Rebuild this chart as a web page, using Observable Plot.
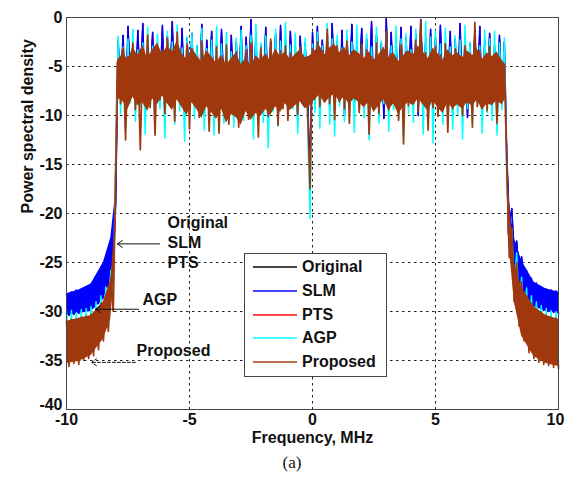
<!DOCTYPE html>
<html>
<head>
<meta charset="utf-8">
<script src="https://cdn.jsdelivr.net/npm/d3@7"></script>
<script src="https://cdn.jsdelivr.net/npm/@observablehq/plot@0.6"></script>
<style>
  body { margin: 0; background: #fff; font-family: "Liberation Sans", Arial, sans-serif; }
  #wrap { position: relative; width: 565px; height: 481px; overflow: hidden; }
  #legend { position: absolute; left: 244px; top: 253px; width: 143px; height: 124px;
            border: 1px solid #444; background: #fff; box-sizing: border-box; }
  .row { position: absolute; left: 0; height: 20px; width: 140px; }
  .sw { position: absolute; left: 8px; top: 9px; width: 44px; height: 2px; }
  .lt { position: absolute; left: 57px; top: 0; line-height: 20px; font-size: 16px; font-weight: bold; color: #111; }
  #caption { position: absolute; top: 450px; left: 292px; transform: translateX(-50%);
             height: 26px; line-height: 26px; font-family: "Liberation Serif", "DejaVu Serif", serif; font-size: 17px; color: #111; }
</style>
</head>
<body>
<div id="wrap">
  <div id="chart"></div>
  <div id="legend"></div>
  <div id="caption">(a)</div>
</div>
<script>
// ---- Series names & colours ----
const seriesNames = ["Original", "SLM", "PTS", "AGP", "Proposed"];
const seriesColors = ["#000000", "#0000ff", "#ff0000", "#00ffff", "#a0380e"];

// ---- Sample frequencies, MHz (-10 .. 10 in 0.1 MHz steps) ----
const freq = d3.range(-100, 101).map(k => k / 10);

// ---- PSD samples (dB) ----
const slmPSD = [
  -28.3, -30.4, -28.0, -30.3, -27.8, -30.2, -27.9, -30.0, -27.5, -29.9, -27.2, -29.6, -26.6, -29.2, -25.8, -28.6, -24.8, -27.6, -23.0, -25.5, -19.0,
  -2.4, -7.0, -1.8, -9.6, -0.9, -6.5, -2.8, -8.2, -1.3, -7.4,
  -0.6, -9.0, -2.2, -6.8, -1.5, -8.7, -3.0, -7.1, -0.8, -10.2,
  -1.9, -6.9, -0.4, -8.3, -2.6, -7.6, -1.1, -9.4, -2.1, -6.6,
  -1.6, -8.8, -2.9, -7.3, -0.7, -9.9, -2.3, -6.7, -1.4, -8.1,
  -2.7, -9.5, -1.2, -7.0, -3.1, -10.4, -1.8, -8.5, -2.5, -7.8,
  -0.9, -9.1, -2.0, -6.9, -0.2, -8.6, -1.6, -10.0, -2.8, -7.2,
  -1.0, -8.4, -2.4, -6.6, -1.7, -9.7, -0.8, -7.5, -2.2, -8.9,
  -1.4, -7.1, -2.9, -10.6, -1.9, -6.8, -2.6, -8.0, -16.0, -1.5,
  -7.4, -0.9, -8.8, -2.3, -6.9, -1.6, -9.2, -0.6, -7.7, -2.5,
  -8.5, -1.3, -10.1, -2.0, -7.0, -0.7, -8.7, -2.7, -6.6, -1.1,
  -9.3, -2.2, -7.5, -0.4, -8.9, -1.8, -6.9, -2.6, -10.3, -0.1,
  -7.8, -1.5, -8.4, -2.8, -6.7, -1.0, -9.6, -2.1, -7.3, -0.9,
  -8.9, -1.7, -10.0, -0.2, -7.0, -2.4, -8.6, -1.2, -9.4, -2.0,
  -7.2, -0.8, -8.3, -2.6, -6.8, -1.4, -9.9, -2.2, -7.7, -0.6,
  -8.8, -1.9, -10.2, -2.7, -7.1, -1.3, -8.5, -0.9, -9.6, -2.3,
  -7.4, -1.6, -8.9, -2.9, -10.1, -1.8, -7.6, -2.5,
  -14.0, -21.0, -19.5, -24.0, -22.8, -26.2, -24.4, -27.6, -25.8, -28.6, -26.6, -29.2, -27.1, -29.6, -27.5, -29.9, -27.7, -30.0, -27.8, -30.1, -27.9, -30.2
];
// Original and PTS coincide with SLM (annotated "Original / SLM / PTS")
const originalPSD = slmPSD;
const ptsPSD = slmPSD;

const agpPSD = [
  -30.0, -35.2, -29.9, -34.9, -30.1, -35.0, -29.8, -34.6, -29.7, -34.4, -29.5, -34.0, -29.0, -33.4, -28.4, -32.6, -27.5, -31.6, -25.8, -29.5, -14.5,
  -1.9, -9.8, -3.0, -11.4, -2.2, -8.7, -1.2, -10.6, -3.3, -9.1,
  -2.6, -11.9, -1.0, -8.4, -2.9, -10.1, -1.7, -9.3, -3.4, -12.3,
  -1.4, -8.8, -2.5, -10.9, -0.8, -9.5, -3.1, -12.6, -2.0, -8.6,
  -1.6, -10.3, -2.8, -9.0, -1.1, -11.5, -3.2, -8.9, -2.3, -12.0,
  -0.9, -9.4, -2.7, -10.8, -1.5, -8.7, -3.5, -11.2, -2.1, -9.9,
  -1.3, -10.5, -2.9, -8.5, -1.8, -12.4, -0.7, -9.2, -2.6, -10.7,
  -1.9, -13.3, -3.0, -9.6, -1.2, -11.1, -2.4, -8.8, -0.5, -10.2,
  -2.8, -9.3, -1.6, -11.8, -3.2, -8.9, -2.1, -10.4, -20.5, -2.7,
  -9.7, -1.5, -11.3, -2.9, -8.6, -0.6, -10.9, -2.2, -12.1, -1.8,
  -9.0, -3.1, -10.6, -1.3, -8.7, -2.5, -11.7, -0.8, -9.5, -2.8,
  -10.2, -1.7, -12.5, -3.0, -9.1, -1.0, -10.8, -2.4, -8.8, -1.5,
  -11.6, -2.9, -9.4, -0.9, -10.4, -2.2, -12.2, -1.6, -9.8, -3.3,
  -10.7, -1.2, -8.9, -2.6, -11.9, -0.4, -9.6, -2.0, -12.8, -1.4,
  -9.2, -2.7, -10.9, -1.1, -8.6, -3.0, -11.4, -1.9, -9.9, -2.3,
  -12.4, -0.8, -9.3, -2.5, -10.6, -1.7, -8.9, -2.9, -11.8, -1.3,
  -9.7, -2.2, -10.5, -1.4, -12.0, -2.6, -9.4, -2.1,
  -16.5, -23.5, -21.5, -27.5, -24.0, -29.8, -26.5, -31.2, -27.6, -32.5, -28.4, -33.4, -29.0, -34.0, -29.4, -34.5, -29.7, -34.8, -29.9, -35.0, -30.0, -35.2
];

const proposedPSD = [
  -31.0, -35.6, -30.8, -35.3, -31.2, -35.4, -30.6, -35.0, -30.5, -34.8, -30.3, -34.5, -29.8, -33.9, -29.2, -33.0, -28.3, -32.0, -26.6, -30.0, -16.0,
  -4.2, -8.8, -3.1, -12.5, -4.0, -7.9, -2.6, -9.4, -3.8, -13.5,
  -3.5, -8.6, -1.8, -9.2, -4.1, -12.0, -2.9, -8.4, -3.3, -9.8,
  -2.1, -8.9, -3.6, -10.6, -1.5, -8.1, -3.9, -9.5, -2.7, -11.4,
  -3.2, -8.7, -4.5, -10.2, -2.4, -9.0, -3.7, -11.6, -4.2, -8.5,
  -3.0, -11.8, -4.6, -9.7, -2.8, -10.9, -4.4, -9.1, -3.5, -11.2,
  -4.8, -8.9, -3.3, -10.4, -2.6, -9.6, -4.3, -12.2, -3.1, -9.2,
  -3.9, -10.1, -2.2, -8.6, -4.0, -11.0, -3.4, -9.3, -2.9, -10.5,
  -3.6, -8.8, -4.2, -9.9, -3.0, -8.4, -4.1, -9.6, -17.5, -3.2,
  -8.3, -2.5, -9.1, -3.4, -7.9, -1.2, -8.8, -3.6, -10.4, -2.9,
  -8.6, -3.8, -9.3, -2.4, -10.8, -3.5, -8.2, -4.3, -9.7, -2.7,
  -8.9, -3.3, -11.9, -4.0, -8.5, -2.6, -9.8, -3.9, -8.1, -1.4,
  -9.4, -3.7, -8.7, -4.4, -10.5, -2.8, -12.9, -3.5, -9.0, -4.1,
  -8.4, -2.3, -9.6, -0.3, -8.8, -3.6, -11.5, -4.2, -9.2, -3.0,
  -10.1, -3.8, -8.6, -2.7, -11.7, -4.0, -9.3, -3.2, -8.5, -4.5,
  -10.0, -2.9, -8.7, -3.7, -11.2, -0.5, -9.1, -3.4, -8.3, -4.1,
  -9.5, -3.0, -8.4, -3.8, -10.8, -4.2, -8.6, -5.0,
  -15.5, -24.5, -21.5, -29.0, -25.0, -31.5, -27.0, -33.0, -28.4, -34.2, -29.2, -34.8, -29.8, -35.2, -30.2, -35.4, -30.4, -35.5, -30.6, -35.7, -30.7, -35.8
];

// ---- Dense-band envelopes (dB) ----
// out-of-band skirts
const leftOobFreq  = [-10, -9.5, -9, -8.5, -8.2, -8.05];
const rightOobFreq = [7.95, 8.2, 8.5, 9, 9.5, 10];
const slmLeftHi   = [-28.2, -27.8, -27.2, -25.0, -22.5, -19.0];
const slmLeftLo   = [-30.4, -30.2, -30.0, -28.8, -26.5, -24.0];
const slmRightHi  = [-18.0, -22.5, -24.8, -27.0, -27.7, -28.0];
const slmRightLo  = [-22.0, -25.5, -27.8, -29.5, -30.0, -30.2];
const propLeftHi  = [-31.0, -30.7, -30.4, -29.0, -26.8, -22.0];
const propLeftLo  = [-35.3, -35.1, -34.5, -32.8, -30.8, -26.0];
const propRightHi = [-17.0, -25.0, -27.5, -29.5, -30.4, -30.8];
const propRightLo = [-22.0, -29.0, -32.5, -34.6, -35.3, -35.6];
// in-band solid core of "Proposed": edges at -7.95 and 7.85, inner points every 0.2 MHz from -7.7 to 7.7
const coreFreq = [-7.95, ...d3.range(-77, 78, 2).map(k => k / 10), 7.85];
const coreHi = [
  -4.6,
  -3.6, -4.4, -3.0, -3.9, -2.8, -4.2, -3.3, -2.6, -3.8,
  -2.9, -3.5, -2.4, -3.7, -4.3, -3.1, -3.9, -4.6, -3.4, -4.0,
  -4.7, -3.8, -4.9, -4.2, -3.6, -4.8, -4.1, -5.0, -3.9, -4.4,
  -3.7, -4.5, -3.2, -4.0, -3.5, -4.3, -3.8, -3.3, -4.1, -3.9,
  -3.4, -2.9, -3.8, -3.1, -2.7, -3.6, -3.0, -3.9, -3.3, -3.7,
  -4.2, -3.5, -4.4, -3.8, -3.0, -4.1, -3.6, -4.5, -3.9, -3.4,
  -3.8, -2.9, -3.5, -4.2, -3.1, -3.7, -4.4, -3.3, -3.9, -3.6,
  -4.1, -3.4, -3.9, -3.2, -4.3, -3.6, -4.0, -3.5, -4.4,
  -4.8
];
const coreLo = [
  -8.2,
  -8.6, -9.4, -8.1, -9.0, -8.7, -9.6, -8.3, -8.9, -8.0,
  -8.8, -9.5, -8.4, -9.2, -10.0, -8.7, -9.4, -10.3, -9.1, -9.7,
  -10.4, -9.3, -10.8, -9.9, -10.2, -11.0, -9.6, -10.5, -9.8, -10.1,
  -9.4, -10.0, -9.1, -9.7, -8.8, -9.5, -9.0, -8.6, -9.3, -9.0,
  -8.4, -7.9, -8.8, -8.2, -7.8, -8.6, -8.1, -8.9, -8.3, -8.7,
  -9.2, -8.6, -9.7, -9.0, -8.4, -9.5, -8.8, -9.9, -9.1, -8.7,
  -9.0, -8.3, -8.9, -9.6, -8.5, -9.2, -9.8, -8.7, -9.3, -8.9,
  -9.4, -8.6, -9.1, -8.4, -9.5, -8.8, -9.0, -8.5, -8.9,
  -8.3
];

// ---- Axis ticks ----
const xTicks = [-10, -5, 0, 5, 10];
const yTicks = [-40, -35, -30, -25, -20, -15, -10, -5, 0];
const xGrid = [-5, 0, 5];
const yGrid = [-35, -30, -25, -20, -15, -10, -5];

// ---- Annotations (data units) ----
const noteText = ["Original", "SLM", "PTS", "AGP", "Proposed"];
const noteX = [-5.89, -5.89, -5.89, -6.91, -7.15];
const noteY = [-20.95, -23.0, -25.05, -28.85, -34.05];
const arrowFromX = [-6.22, -7.07, -7.2];
const arrowToX = [-7.93, -8.82, -8.98];
const arrowY = [-23.1, -29.77, -35.19];
const arrowDashed = [false, false, true];

// ---- build tables ----
[originalPSD, ptsPSD, slmPSD, agpPSD, proposedPSD].forEach(s => { if (s.length !== freq.length) throw new Error("series length " + s.length); });
if (coreHi.length !== coreFreq.length || coreLo.length !== coreFreq.length) throw new Error("core length " + coreFreq.length + " " + coreHi.length + " " + coreLo.length);
const rows = freq.map((f, i) => ({f, orig: originalPSD[i], pts: ptsPSD[i], slm: slmPSD[i], agp: agpPSD[i], prop: proposedPSD[i]}));
const slmLeft = leftOobFreq.map((f, i) => ({f, lo: slmLeftLo[i], hi: slmLeftHi[i]}));
const slmRight = rightOobFreq.map((f, i) => ({f, lo: slmRightLo[i], hi: slmRightHi[i]}));
const propEnv = [
  ...leftOobFreq.map((f, i) => ({f, lo: propLeftLo[i], hi: propLeftHi[i]})),
  ...coreFreq.map((f, i) => ({f, lo: coreLo[i], hi: coreHi[i]})),
  ...rightOobFreq.map((f, i) => ({f, lo: propRightLo[i], hi: propRightHi[i]}))
];
const notes = noteText.map((t, i) => ({t, x: noteX[i], y: noteY[i]}));
const arrows = arrowFromX.map((x1, i) => ({x1, x2: arrowToX[i], y: arrowY[i], dashed: arrowDashed[i]}));

const [cOrig, cSLM, cPTS, cAGP, cProp] = seriesColors;
const fmt = d => String(d);
const axisStyle = {tickSize: 0, tickPadding: 4, tickFormat: fmt, label: null};

const chart = Plot.plot({
  width: 565,
  height: 450,
  marginLeft: 66,
  marginRight: 7,
  marginTop: 17,
  marginBottom: 41,
  style: {fontFamily: "'Liberation Sans', Arial, sans-serif", fontSize: "16px", fontWeight: "bold", color: "#111", background: "#fff"},
  x: {domain: [-10, 10]},
  y: {domain: [-40, 0]},
  marks: [
    Plot.ruleX(xGrid, {stroke: "#222", strokeDasharray: "2.5,3.5", strokeWidth: 1}),
    Plot.ruleY(yGrid, {stroke: "#222", strokeDasharray: "2.5,3.5", strokeWidth: 1}),
    Plot.line(rows, {x: "f", y: "orig", stroke: cOrig, strokeWidth: 1}),
    Plot.line(rows, {x: "f", y: "pts", stroke: cPTS, strokeWidth: 1}),
    Plot.areaY(slmLeft, {x: "f", y1: "lo", y2: "hi", fill: cSLM}),
    Plot.areaY(slmRight, {x: "f", y1: "lo", y2: "hi", fill: cSLM}),
    Plot.line(rows, {x: "f", y: "slm", stroke: cSLM, strokeWidth: 1.5}),
    Plot.line(rows, {x: "f", y: "agp", stroke: cAGP, strokeWidth: 1.5}),
    Plot.areaY(propEnv, {x: "f", y1: "lo", y2: "hi", fill: cProp}),
    Plot.line(rows, {x: "f", y: "prop", stroke: cProp, strokeWidth: 1.7}),
    Plot.frame({stroke: "#444", strokeWidth: 1}),
    Plot.axisY(yTicks.filter(t => t !== -40), axisStyle),
    Plot.axisY([-40], {...axisStyle, dy: -5}),
    Plot.axisX(xTicks.filter(t => t !== 10), axisStyle),
    Plot.axisX([10], {...axisStyle, dx: -3}),
    Plot.text(notes, {x: "x", y: "y", text: "t", textAnchor: "start", fontSize: 16, fontWeight: "bold", fill: "#111"}),
    Plot.arrow(arrows.filter(a => !a.dashed), {x1: "x1", x2: "x2", y1: "y", y2: "y", stroke: "#111", strokeWidth: 1, headLength: 9, headAngle: 70}),
    Plot.arrow(arrows.filter(a => a.dashed), {x1: "x1", x2: "x2", y1: "y", y2: "y", stroke: "#111", strokeWidth: 1, headLength: 9, headAngle: 70, strokeDasharray: "3,2"}),
    Plot.text(["Frequency, MHz"], {frameAnchor: "bottom", lineAnchor: "middle", dy: 28.5, fontSize: 16, fontWeight: "bold", fill: "#111"}),
    Plot.text(["Power spectral density"], {frameAnchor: "left", dx: -39, rotate: -90, fontSize: 16, fontWeight: "bold", fill: "#111"})
  ]
});
document.getElementById("chart").appendChild(chart);

// ---- legend ----
const legend = document.getElementById("legend");
seriesNames.forEach((name, k) => {
  const row = document.createElement("div");
  row.className = "row";
  row.style.top = (3 + k * 23.75) + "px";
  const sw = document.createElement("div");
  sw.className = "sw";
  sw.style.background = seriesColors[k];
  sw.style.opacity = 0.72;
  const lt = document.createElement("div");
  lt.className = "lt";
  lt.textContent = name;
  row.appendChild(sw);
  row.appendChild(lt);
  legend.appendChild(row);
});
</script>
</body>
</html>
